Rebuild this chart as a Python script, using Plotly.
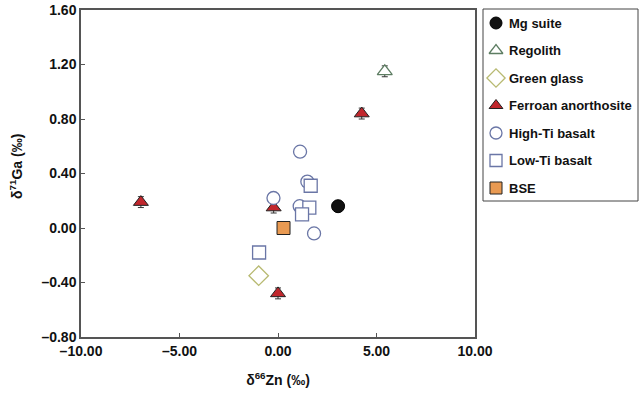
import plotly.graph_objects as go

# Data (delta66Zn, delta71Ga), per suite
mg_x = [3.05]
mg_y = [0.16]
reg_x = [5.42]
reg_y = [1.15]
gg_x = [-0.98]
gg_y = [-0.35]
fa_x = [-6.96, -0.22, 4.25, 0.0]
fa_y = [0.19, 0.15, 0.84, -0.48]
hti_x = [1.12, 1.49, -0.23, 1.83, 1.10]
hti_y = [0.56, 0.34, 0.22, -0.04, 0.16]
lti_x = [1.66, 1.59, 1.22, -0.96]
lti_y = [0.31, 0.15, 0.10, -0.18]
bse_x = [0.28]
bse_y = [0.0]

series_names = ["Mg suite", "Regolith", "Green glass", "Ferroan anorthosite",
                "High-Ti basalt", "Low-Ti basalt", "BSE"]

x_ticks = [-10, -5, 0, 5, 10]
x_tick_text = ["–10.00", "–5.00", "0.00", "5.00", "10.00"]
y_ticks = [-0.8, -0.4, 0.0, 0.4, 0.8, 1.2, 1.6]
y_tick_text = ["–0.80", "–0.40", "0.00", "0.40", "0.80", "1.20", "1.60"]
x_title = "<b>δ<sup>66</sup>Zn (‰)</b>"
y_title = "<b>δ<sup>71</sup>Ga (‰)</b>"

FONT = "Liberation Sans, Arial, sans-serif"
ERR = 0.04

BLUE = "#6a76a6"
markers = [
    dict(symbol="circle", color="#111111", size=13, line=dict(color="#000000", width=1)),
    dict(symbol="triangle-up", color="white", size=13, line=dict(color="#5d7d62", width=1.3)),
    dict(symbol="diamond", color="white", size=15, line=dict(color="#b8ba72", width=1.3)),
    dict(symbol="triangle-up", color="#c1272d", size=13, line=dict(color="#222222", width=1)),
    dict(symbol="circle", color="white", size=13, line=dict(color=BLUE, width=1.3)),
    dict(symbol="square", color="white", size=13, line=dict(color=BLUE, width=1.3)),
    dict(symbol="square", color="#e99a52", size=13, line=dict(color="#222222", width=1)),
]
data_x = [mg_x, reg_x, gg_x, fa_x, hti_x, lti_x, bse_x]
data_y = [mg_y, reg_y, gg_y, fa_y, hti_y, lti_y, bse_y]

W, H = 640, 395
ML, MR, MT, MB = 81, 1, 10, 58
PW = W - ML - MR
PH = H - MT - MB
plot_right_px = 475
leg_left_px, leg_right_px, leg_top_px, leg_bot_px = 483, 638, 10, 201

def px_x(p):
    return (p - ML) / PW

def px_y(p):
    return (H - MB - p) / PH

fig = go.Figure()
for name, xs, ys, mk in zip(series_names, data_x, data_y, markers):
    fig.add_trace(go.Scatter(
        x=xs, y=ys, mode="markers", name=name, marker=mk, showlegend=False,
        error_y=dict(type="constant", value=ERR, color="#333333", thickness=1, width=3),
        xaxis="x", yaxis="y",
    ))

# Hand-built legend on its own small axis
leg_w = leg_right_px - leg_left_px
leg_h = leg_bot_px - leg_top_px
row_y = [13 + i * 27.5 for i in range(len(series_names))]
for name, mk, ry in zip(series_names, markers, row_y):
    m = dict(mk)
    m["size"] = mk["size"] - 1
    fig.add_trace(go.Scatter(
        x=[13], y=[ry], mode="markers", marker=m, showlegend=False,
        hoverinfo="skip", xaxis="x2", yaxis="y2",
    ))
    fig.add_annotation(
        x=24, y=ry, xref="x2", yref="y2", text=f"<b>{name}</b>", showarrow=False,
        xanchor="left", yanchor="middle",
        font=dict(family=FONT, size=13, color="#111111"),
    )

fig.add_shape(
    type="rect", xref="paper", yref="paper",
    x0=px_x(leg_left_px), x1=px_x(leg_right_px),
    y0=px_y(leg_bot_px), y1=px_y(leg_top_px - 1),
    line=dict(color="#444444", width=1), fillcolor="rgba(0,0,0,0)", layer="below",
)

# y-axis title
fig.add_annotation(
    x=px_x(16), y=px_y(167), xref="paper", yref="paper", text=y_title,
    textangle=-90, showarrow=False, xanchor="center", yanchor="middle",
    font=dict(family=FONT, size=14, color="#111111"),
)

axis_common = dict(
    showgrid=False, zeroline=False, showline=True, linecolor="#555555", linewidth=1.5,
    mirror=True, ticks="inside", ticklen=4, tickcolor="#555555", automargin=False,
    tickfont=dict(family=FONT, size=14, weight="bold", color="#111111"),
)

fig.update_layout(
    width=W, height=H,
    margin=dict(l=ML, r=MR, t=MT, b=MB, autoexpand=False),
    paper_bgcolor="white", plot_bgcolor="white",
    font=dict(family=FONT, size=14, color="#111111"),
    showlegend=False,
    xaxis=dict(
        domain=[0, px_x(plot_right_px)],
        range=[-10, 10], tickvals=x_ticks, ticktext=x_tick_text,
        title=dict(text=x_title, font=dict(family=FONT, size=14), standoff=18),
        **axis_common,
    ),
    yaxis=dict(
        domain=[0, 1],
        range=[-0.8, 1.6], tickvals=y_ticks, ticktext=y_tick_text,
        **axis_common,
    ),
    xaxis2=dict(
        domain=[px_x(leg_left_px), px_x(leg_right_px)], range=[0, leg_w],
        visible=False, fixedrange=True, anchor="y2",
    ),
    yaxis2=dict(
        domain=[px_y(leg_bot_px), px_y(leg_top_px)], range=[leg_h, 0],
        visible=False, fixedrange=True, anchor="x2",
    ),
)

fig.write_html("out.html", config={"displayModeBar": False},
               post_script="document.body.style.margin='0';")
